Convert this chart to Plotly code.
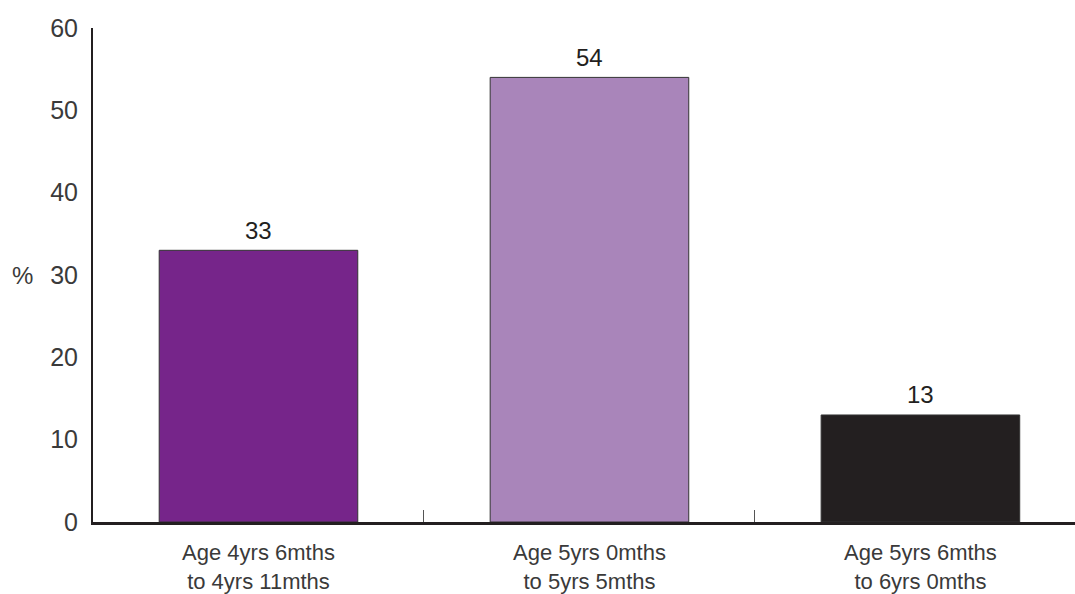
import plotly.graph_objects as go

categories = ["Age 4yrs 6mths<br>to 4yrs 11mths",
              "Age 5yrs 0mths<br>to 5yrs 5mths",
              "Age 5yrs 6mths<br>to 6yrs 0mths"]
values = [33, 54, 13]
bar_colors = ["#76258A", "#A985BA", "#231F20"]
y_ticks = [0, 10, 20, 30, 40, 50, 60]

FONT = "Liberation Sans"

fig = go.Figure()
fig.add_trace(go.Bar(
    x=categories, y=values, width=0.6,
    marker=dict(color=bar_colors, line=dict(color="#333333", width=1)),
    hoverinfo="skip",
))

for c, v in zip(categories, values):
    fig.add_annotation(x=c, y=v, text=str(v), showarrow=False,
                       yanchor="middle", yshift=20,
                       font=dict(family=FONT, size=24, color="#231F20"))

fig.add_annotation(xref="paper", yref="y", x=-0.072, y=30, text="%",
                   showarrow=False, xanchor="center", yanchor="middle",
                   font=dict(family=FONT, size=24, color="#3a3a3a"))

fig.update_layout(
    width=1075, height=594,
    margin=dict(l=93, r=0, t=28, b=72),
    paper_bgcolor="white", plot_bgcolor="white",
    showlegend=False, bargap=0.4,
    xaxis=dict(
        type="category", range=[-0.5, 2.467],
        showline=True, linecolor="#231F20", linewidth=2.5,
        ticks="inside", tickson="boundaries", ticklen=12, tickwidth=1,
        tickcolor="#555555", showgrid=False, zeroline=False,
        tickfont=dict(family=FONT, size=22, color="#3a3a3a"),
        ticklabelstandoff=9,
    ),
    yaxis=dict(
        range=[0, 60], tickvals=y_ticks, ticks="",
        showline=True, linecolor="#231F20", linewidth=2,
        showgrid=False, zeroline=False,
        tickfont=dict(family=FONT, size=25, color="#3a3a3a"),
        ticklabelstandoff=8,
    ),
)

fig.write_html("out.html")
